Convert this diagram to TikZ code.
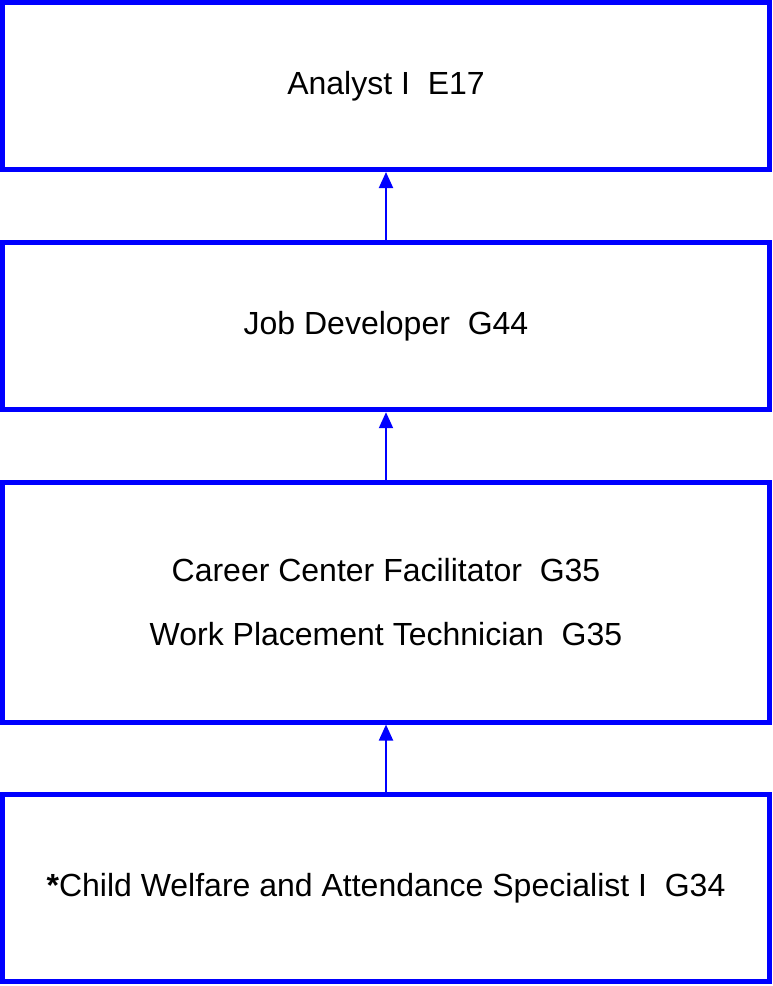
\documentclass[tikz,border=0pt]{standalone}
\usepackage{fontspec}
\setmainfont{Liberation Sans}
\usepackage{tikz}
\usetikzlibrary{arrows.meta}
\definecolor{bordo}{RGB}{0,0,255}
\tikzstyle{livello} = [rectangle, minimum width=767pt, line width=5pt, text centered, align=center, draw=bordo, inner sep=0pt, font=\fontsize{32pt}{38pt}\selectfont]
\tikzstyle{arrow} = [line width=2pt, draw=bordo, -{Triangle[width=14pt,length=16pt]}]

\begin{document}
\begin{tikzpicture}[x=1pt,y=-1pt]
							\useasboundingbox (0,0) rectangle (772,986);
							\node (l1) at (386,86) [livello, minimum height=167pt] {Analyst I~~E17};
							\node (l2) at (386,326) [livello, minimum height=167.4pt] {Job Developer~~G44};
							\node (l3) at (386,602.2) [livello, minimum height=239.7pt, font=\fontsize{32pt}{64pt}\selectfont] {Career Center Facilitator~~G35\\Work Placement Technician~~G35};
							\node (l4) at (386,887.9) [livello, minimum height=187.7pt] {\textbf{*}Child Welfare and Attendance Specialist I~~G34};
							\draw[arrow] (l2) -- (l1);
							\draw[arrow] (l3) -- (l2);
							\draw[arrow] (l4) -- (l3);
						\end{tikzpicture}
\end{document}
